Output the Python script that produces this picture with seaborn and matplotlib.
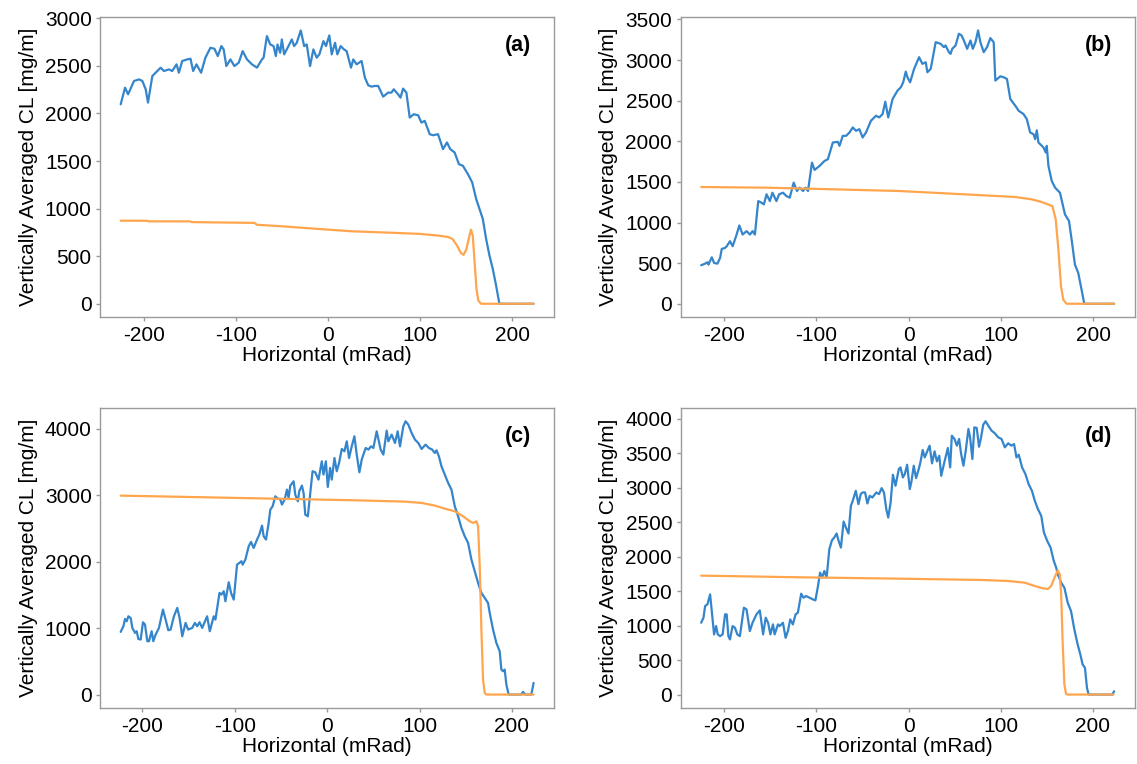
import numpy as np
import pandas as pd
import matplotlib
matplotlib.use("Agg")
import matplotlib.pyplot as plt
import seaborn as sns

# ---------------- data ----------------
# Panel (a)
a_blue_x = [-224.9, -220.2, -216.9, -210.5, -205.0, -201.4, -197.8, -195.3, -190.6, -185.2, -181.6, -178.0,
            -172.6, -169.0, -164.3, -161.8, -158.2, -152.8, -149.2, -146.3, -142.7, -137.7, -133.0, -127.6,
            -123.2, -119.6, -115.7, -113.2, -110.3, -105.9, -101.6, -96.9, -92.6, -87.9, -82.5, -77.1, -71.7,
            -69.9, -66.3, -62.7, -59.1, -56.6, -54.8, -51.9, -50.1, -47.6, -42.9, -39.3, -36.8, -33.9, -29.6,
            -25.9, -23.1, -19.5, -15.9, -12.3, -9.4, -5.0, -2.2, 1.4, 4.0, 7.6, 10.1, 13.7, 17.3, 20.2, 24.9,
            27.4, 31.0, 36.4, 40.0, 43.6, 47.2, 50.8, 54.4, 59.8, 65.2, 68.8, 71.3, 76.0, 78.6, 81.4, 85.0,
            88.6, 93.0, 97.7, 101.3, 104.9, 110.3, 113.9, 119.3, 124.7, 129.0, 132.6, 137.3, 142.0, 146.3,
            151.7, 156.4, 160.7, 164.3, 167.9, 171.5, 175.1, 178.7, 182.3, 185.9, 223.0]
a_blue_y = [2096, 2271, 2201, 2341, 2358, 2341, 2254, 2114, 2393, 2446, 2481, 2446,
            2463, 2446, 2516, 2428, 2551, 2568, 2575, 2446, 2516, 2428, 2586, 2690,
            2680, 2603, 2708, 2673, 2498, 2568, 2498, 2533, 2655, 2568, 2516, 2481, 2568,
            2586, 2813, 2725, 2708, 2603, 2725, 2638, 2778, 2621, 2708, 2778, 2708, 2743, 2872,
            2708, 2725, 2498, 2673, 2586, 2621, 2760, 2708, 2820, 2621, 2743, 2621, 2708, 2673, 2655, 2481,
            2568, 2516, 2551, 2376, 2296, 2282, 2289, 2289, 2177, 2219, 2219, 2254, 2201, 2166, 2261, 2219,
            1957, 1992, 1981, 1904, 1922, 1782, 1771, 1782, 1625, 1695, 1625, 1590, 1467, 1450,
            1363, 1275, 1101, 996, 891, 681, 507, 367, 192, 0, 0]
a_orange_x = [-224.9, -196.0, -195.0, -150.0, -147.4, -80.0, -77.1, -50.0, 0.0, 25.0, 75.0, 100.0, 120.0,
              130.0, 135.0, 140.0, 144.0, 147.0, 150.0, 153.0, 155.0, 157.0, 159.0, 161.0, 163.0, 166.0, 223.0]
a_orange_y = [873, 872, 866, 866, 858, 850, 830, 814, 779, 762, 744, 734, 716,
              702, 681, 611, 535, 514, 570, 699, 779, 716, 437, 157, 35, 0, 0]

# Panel (b)
b_blue_x = [-224.9, -220.6, -218.1, -217.0, -213.4, -210.9, -207.3, -204.4, -202.6, -199.0, -197.2, -193.7,
            -190.8, -186.5, -183.6, -180.0, -175.7, -172.1, -169.2, -166.7, -163.1, -159.5, -157.0, -154.1,
            -150.5, -147.7, -143.4, -140.5, -136.2, -132.6, -129.0, -124.7, -121.1, -118.2, -114.6, -111.8,
            -109.2, -104.9, -102.1, -96.7, -91.3, -87.7, -82.3, -76.9, -75.1, -71.5, -67.9, -64.3, -60.7,
            -57.2, -53.6, -50.0, -46.4, -41.0, -35.6, -32.0, -28.4, -25.5, -22.3, -17.6, -12.3, -8.7, -6.1,
            -3.3, -1.5, 1.4, 5.7, 11.1, 14.7, 18.3, 20.1, 23.7, 29.1, 34.4, 38.0, 39.8, 43.4, 45.2, 47.0,
            50.6, 54.2, 57.1, 59.6, 63.2, 66.8, 69.3, 72.2, 75.0, 77.5, 81.1, 84.7, 88.3, 91.9, 93.7, 99.1,
            102.7, 106.3, 109.9, 115.3, 118.9, 124.2, 127.8, 131.4, 135.0, 136.8, 138.6, 140.4, 145.8, 148.3,
            149.4, 151.2, 154.8, 158.4, 163.7, 169.1, 173.5, 176.3, 179.9, 183.5, 187.1, 190.0, 222.3]
b_blue_y = [474, 494, 511, 482, 572, 502, 494, 564, 675, 688, 708, 770,
            708, 852, 964, 852, 894, 852, 894, 852, 1264, 1244, 1223, 1347,
            1264, 1367, 1264, 1347, 1367, 1326, 1306, 1491, 1388, 1429, 1388, 1429,
            1388, 1738, 1647, 1697, 1758, 1779, 1985, 1993, 1944, 2067, 2067, 2108, 2170,
            2129, 2149, 2047, 2108, 2253, 2314, 2294, 2335, 2487, 2294, 2520, 2623, 2664, 2726,
            2858, 2788, 2726, 2891, 3035, 2953, 2973, 2850, 2891, 3220, 3200, 3159, 3179, 3097, 3076, 3138,
            3179, 3323, 3303, 3241, 3138, 3241, 3138, 3220, 3364, 3220, 3097, 3159, 3270, 3220, 2747, 2800,
            2788, 2767, 2520, 2438, 2376, 2335, 2273, 2108, 2088, 2026, 2135, 1985, 1924, 1862,
            1944, 1697, 1511, 1429, 1367, 1100, 1017, 791, 482, 379, 173, 0, 0]
b_orange_x = [-224.9, -154.1, -78.7, -10.5, 75.7, 115.3, 133.2, 144.0, 155.5, 159.1, 162.0, 164.8, 167.3,
              170.9, 222.3]
b_orange_y = [1437, 1429, 1408, 1388, 1338, 1314, 1285, 1252, 1202, 1038, 667, 214, 49, 0, 0]

# Panel (c)
c_blue_x = [-223.4, -220.5, -218.7, -216.9, -215.1, -212.6, -210.8, -207.9, -206.1, -204.3, -201.8, -199.3,
            -197.1, -194.6, -192.8, -189.9, -188.1, -185.6, -182.0, -177.7, -174.8, -171.9, -169.4, -165.8,
            -162.2, -159.7, -156.8, -153.2, -150.4, -146.0, -143.2, -140.6, -138.1, -135.2, -129.9, -127.0,
            -122.7, -120.9, -116.5, -114.4, -111.9, -110.1, -106.5, -104.0, -101.1, -97.5, -95.0, -92.8,
            -91.4, -88.5, -84.9, -82.4, -79.5, -75.9, -73.4, -70.5, -68.7, -66.2, -63.3, -61.5, -59.0,
            -56.1, -54.3, -50.7, -48.9, -46.0, -43.5, -41.7, -39.9, -36.3, -34.5, -31.7, -30.2, -27.3,
            -25.5, -23.7, -20.9, -18.3, -15.8, -12.9, -9.4, -5.8, -4.0, -1.4, 0.7, 3.2, 5.0, 7.9, 10.4,
            12.9, 15.8, 18.7, 21.2, 23.7, 26.6, 29.5, 32.0, 34.9, 37.4, 39.2, 41.7, 44.6, 47.5, 50.0, 53.6,
            55.4, 57.9, 60.8, 64.4, 66.2, 69.8, 73.4, 76.3, 78.8, 82.4, 84.9, 87.8, 91.4, 95.0, 98.6, 102.2,
            106.5, 110.1, 113.7, 116.5, 118.3, 120.9, 123.7, 127.3, 130.9, 134.5, 138.1, 141.7, 145.3, 148.9,
            152.5, 156.1, 159.7, 163.3, 166.9, 170.5, 174.1, 175.9, 179.5, 183.1, 186.7, 188.5, 190.3, 192.1,
            193.9, 196.4, 210.1, 211.9, 214.4, 220.9, 223.4]
c_blue_y = [944, 1029, 1139, 1104, 1179, 1154, 1004, 929, 954, 838, 828, 1089,
            1054, 803, 803, 954, 803, 903, 1004, 1280, 1129, 969, 979, 1179,
            1305, 1154, 878, 1079, 979, 1004, 1079, 1029, 1089, 1004, 1179, 954,
            1179, 1129, 1531, 1506, 1556, 1405, 1691, 1531, 1430, 1957, 1983, 2008,
            1957, 2033, 2233, 2299, 2208, 2334, 2409, 2545, 2384, 2334, 2585, 2786, 2836,
            2986, 2961, 2936, 2861, 2936, 3087, 2961, 3147, 3212, 3011, 2911, 3062, 3147,
            3036, 2710, 2685, 3037, 3363, 3348, 3237, 3513, 3313, 3513, 3127, 3413, 3237, 3563, 3363,
            3488, 3699, 3664, 3814, 3563, 3739, 3890, 3614, 3348, 3538, 3614, 3714, 3689, 3739, 3714, 3965,
            3850, 3689, 3614, 3975, 3814, 3915, 3789, 3965, 3739, 4040, 4116, 4065, 3940, 3840, 3789, 3699,
            3764, 3714, 3689, 3639, 3679, 3589, 3438, 3313, 3187, 3087, 2836, 2685, 2510, 2384,
            2284, 2033, 1857, 1681, 1531, 1456, 1380, 1230, 979, 778, 652, 376, 351, 376,
            151, 0, 0, 40, 0, 0, 176]
c_orange_x = [-223.4, -149.6, -59.7, 30.2, 84.2, 102.2, 116.5, 127.3, 138.1, 147.1, 154.3, 157.9, 161.5,
              163.3, 165.1, 166.9, 168.7, 170.5, 172.3, 223.4]
c_orange_y = [2996, 2976, 2951, 2926, 2906, 2886, 2846, 2800, 2760, 2685, 2610, 2585, 2610,
              2535, 1932, 979, 226, 25, 0, 0]

# Panel (d)
d_blue_x = [-224.9, -222.4, -220.6, -218.1, -215.2, -213.4, -210.9, -208.7, -206.9, -204.4, -201.6, -199.0,
            -197.2, -195.4, -193.7, -190.8, -188.3, -185.7, -182.9, -178.6, -175.7, -172.1, -169.2, -164.9,
            -161.3, -157.7, -154.9, -152.3, -149.8, -147.0, -145.2, -141.6, -139.8, -136.2, -133.3, -130.8,
            -128.3, -125.4, -122.5, -120.0, -116.4, -113.9, -111.0, -107.4, -103.9, -101.0, -98.5, -95.9,
            -93.8, -91.3, -88.8, -85.9, -83.0, -80.5, -78.0, -75.8, -73.3, -70.4, -67.9, -65.1, -62.5,
            -60.7, -57.2, -54.3, -51.8, -50.0, -47.1, -44.6, -42.1, -39.2, -34.9, -32.0, -29.1, -26.6,
            -24.1, -22.0, -19.4, -16.9, -14.1, -10.5, -8.7, -6.1, -4.0, -1.5, 1.4, 3.2, 5.7, 8.2, 11.1,
            12.9, 15.4, 17.6, 20.4, 22.9, 25.5, 28.3, 30.8, 33.4, 35.5, 39.1, 42.7, 45.2, 47.0, 49.9, 52.4,
            54.9, 57.1, 59.6, 62.1, 65.0, 66.8, 69.3, 71.4, 74.0, 76.5, 78.6, 81.1, 83.6, 86.5, 90.1, 93.7,
            97.3, 100.9, 104.5, 108.1, 111.7, 114.5, 117.1, 119.6, 123.2, 126.8, 130.3, 133.9, 136.8, 140.4,
            144.0, 146.9, 150.5, 154.1, 157.6, 160.2, 162.0, 165.6, 169.1, 172.7, 176.3, 179.9, 183.5, 186.4,
            188.9, 191.4, 193.6, 195.4, 221.2, 223.0]
d_blue_y = [1042, 1115, 1285, 1309, 1454, 1212, 873, 994, 873, 848, 873, 1164,
            1164, 848, 800, 994, 970, 873, 848, 1260, 1236, 921, 1042, 1164,
            1222, 873, 1115, 1042, 873, 1018, 873, 1018, 994, 1042, 824, 921,
            1091, 1018, 1164, 1188, 1464, 1406, 1430, 1406, 1382, 1367, 1551, 1770,
            1697, 1794, 1697, 2109, 2240, 2279, 2337, 2230, 2133, 2511, 2424, 2337, 2739,
            2802, 2957, 2763, 2909, 2933, 2933, 2773, 2884, 2860, 2933, 2909, 2996, 2933,
            2691, 2569, 2787, 3190, 3030, 3272, 3297, 3151, 3200, 3335, 2982, 3093, 3321, 3141, 3272,
            3369, 3549, 3442, 3530, 3612, 3355, 3530, 3384, 3466, 3175, 3384, 3578, 3297, 3757, 3709, 3612,
            3709, 3491, 3321, 3539, 3854, 3733, 3418, 3878, 3869, 3597, 3723, 3917, 3966, 3903, 3830, 3791,
            3733, 3709, 3588, 3646, 3612, 3636, 3442, 3481, 3297, 3200, 3054, 2957, 2821, 2691,
            2594, 2351, 2230, 2133, 1939, 1842, 1745, 1624, 1551, 1333, 1212, 945, 727, 582,
            436, 388, 97, 0, 0, 48]
d_orange_x = [-224.9, -118.2, -10.5, 79.3, 108.1, 126.0, 136.8, 145.8, 151.2, 154.8, 158.4, 162.0, 164.1,
              165.6, 167.3, 169.1, 170.9, 172.7, 222.3]
d_orange_y = [1726, 1702, 1682, 1663, 1648, 1624, 1576, 1542, 1532, 1576, 1697, 1803, 1745,
              1454, 727, 145, 10, 0, 0]

panel_labels = ["(a)", "(b)", "(c)", "(d)"]
y_ticks = [np.arange(0, 3001, 500), np.arange(0, 3501, 500), np.arange(0, 4001, 1000), np.arange(0, 4001, 500)]
x_ticks = [-200, -100, 0, 100, 200]
x_label = "Horizontal (mRad)"
y_label = "Vertically Averaged CL [mg/m]"

BLUE = "#3585cc"
ORANGE = "#ffa54d"

# ---------------- plotting ----------------
sns.set_theme(style="ticks")
plt.rcParams["font.family"] = ["Liberation Sans", "DejaVu Sans"]
plt.rcParams.update({
    "axes.unicode_minus": False,
    "text.color": "black",
    "axes.labelcolor": "black",
    "axes.edgecolor": "#9a9a9a",
    "axes.linewidth": 1.0,
    "xtick.color": "#9a9a9a",
    "ytick.color": "#9a9a9a",
    "xtick.labelcolor": "black",
    "ytick.labelcolor": "black",
    "xtick.major.size": 3,
    "ytick.major.size": 3,
    "xtick.major.width": 1.0,
    "ytick.major.width": 1.0,
})

FS = 15

fig, axes = plt.subplots(2, 2, figsize=(11.37, 7.64), dpi=100)
fig.subplots_adjust(left=0.088, right=0.998, top=0.978, bottom=0.073, wspace=0.278, hspace=0.30)

panels = [
    (a_blue_x, a_blue_y, a_orange_x, a_orange_y),
    (b_blue_x, b_blue_y, b_orange_x, b_orange_y),
    (c_blue_x, c_blue_y, c_orange_x, c_orange_y),
    (d_blue_x, d_blue_y, d_orange_x, d_orange_y),
]

for i, (ax, (bx, by, ox, oy)) in enumerate(zip(axes.flat, panels)):
    dfb = pd.DataFrame({"x": bx, "y": by})
    dfo = pd.DataFrame({"x": ox, "y": oy})
    sns.lineplot(data=dfb, x="x", y="y", ax=ax, color=BLUE, linewidth=1.6, estimator=None, sort=False)
    sns.lineplot(data=dfo, x="x", y="y", ax=ax, color=ORANGE, linewidth=1.6, estimator=None, sort=False)
    ax.set_xticks(x_ticks)
    ax.set_yticks(y_ticks[i])
    ax.tick_params(labelsize=FS, pad=3)
    ax.set_xlabel(x_label, fontsize=FS, labelpad=1)
    ax.set_ylabel(y_label, fontsize=FS, labelpad=5)
    ax.margins(x=0.05, y=0.05)
    for s in ax.spines.values():
        s.set_visible(True)
    ax.text(0.92, 0.905, panel_labels[i], transform=ax.transAxes, ha="center", va="center",
            fontsize=15.5, fontweight="bold")

fig.savefig("out.png", dpi=100)
